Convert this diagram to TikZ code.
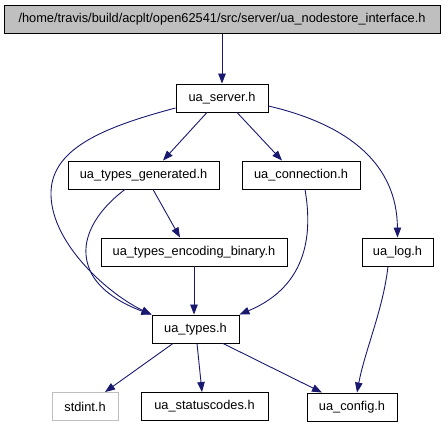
\documentclass[tikz,border=0pt]{standalone}
\usepackage{fontspec}
\setmainfont{Liberation Sans}
\usetikzlibrary{arrows.meta}
\definecolor{edgeblue}{RGB}{25,25,112}
\definecolor{topgray}{RGB}{191,191,191}
\begin{document}
\begin{tikzpicture}[x=1pt, y=-1pt, >={Triangle[length=10pt,width=7.5pt,fill=edgeblue]},
    file/.style={draw=black, line width=0.9pt, fill=white, minimum height=28pt, inner sep=0pt, font=\fontsize{12.8}{14}\selectfont},
    edge/.style={->, draw=edgeblue, line width=0.9pt}]
      \useasboundingbox (0,0) rectangle (445,427);
      \node[file, fill=topgray, minimum width=436pt] (top) at (222,19.5) {/home/travis/build/acplt/open62541/src/server/ua\_nodestore\_interface.h};
      \node[file, minimum width=92pt] (srv) at (222,98) {ua\_server.h};
      \node[file, minimum width=151pt] (gen) at (143.5,175) {ua\_types\_generated.h};
      \node[file, minimum width=118pt] (conn) at (301,175) {ua\_connection.h};
      \node[file, minimum width=186pt] (enc) at (194,252) {ua\_types\_encoding\_binary.h};
      \node[file, minimum width=71pt] (log) at (397.5,252) {ua\_log.h};
      \node[file, minimum width=87pt] (types) at (195.5,329) {ua\_types.h};
      \node[file, draw=topgray, minimum width=66pt] (stdint) at (85,406.5) {stdint.h};
      \node[file, minimum width=127pt] (status) at (204.5,406.5) {ua\_statuscodes.h};
      \node[file, minimum width=90pt] (config) at (352,407) {ua\_config.h};
      % edges
      \draw[edge] (top) -- (srv);
      \draw[edge] ([xshift=-15pt]srv.south) -- ([xshift=19.5pt]gen.north);
      \draw[edge] ([xshift=15pt]srv.south) -- ([xshift=-19pt]conn.north);
      \draw[edge] ([yshift=-8pt]srv.east) .. controls (350,125) and (397,165) .. (log.north);
      \draw[edge] ([yshift=-10pt]srv.west) .. controls (100,128) and (50,150) .. (51,195) .. controls (52,245) and (110,295) .. (types.north west);
      \draw[edge] ([xshift=-18.5pt]gen.south) .. controls (95,212) and (80,240) .. (88,265) .. controls (95,290) and (125,305) .. (types.north west);
      \draw[edge] ([xshift=9.5pt]gen.south) -- ([xshift=-14pt]enc.north);
      \draw[edge] ([xshift=4pt]conn.south) .. controls (312,230) and (310,285) .. (types.north east);
      \draw[edge] (enc.south) -- (enc.south |- types.north);
      \draw[edge] ([xshift=-9.5pt]log.south) .. controls (383,310) and (365,350) .. ([xshift=5pt]config.north);
      \draw[edge] ([xshift=-22.5pt]types.south) -- ([xshift=20pt]stdint.north);
      \draw[edge] ([xshift=1.5pt]types.south) -- ([xshift=-2.5pt]status.north);
      \draw[edge] ([xshift=27.5pt]types.south) -- ([xshift=-30pt]config.north);
    \end{tikzpicture}
\end{document}
